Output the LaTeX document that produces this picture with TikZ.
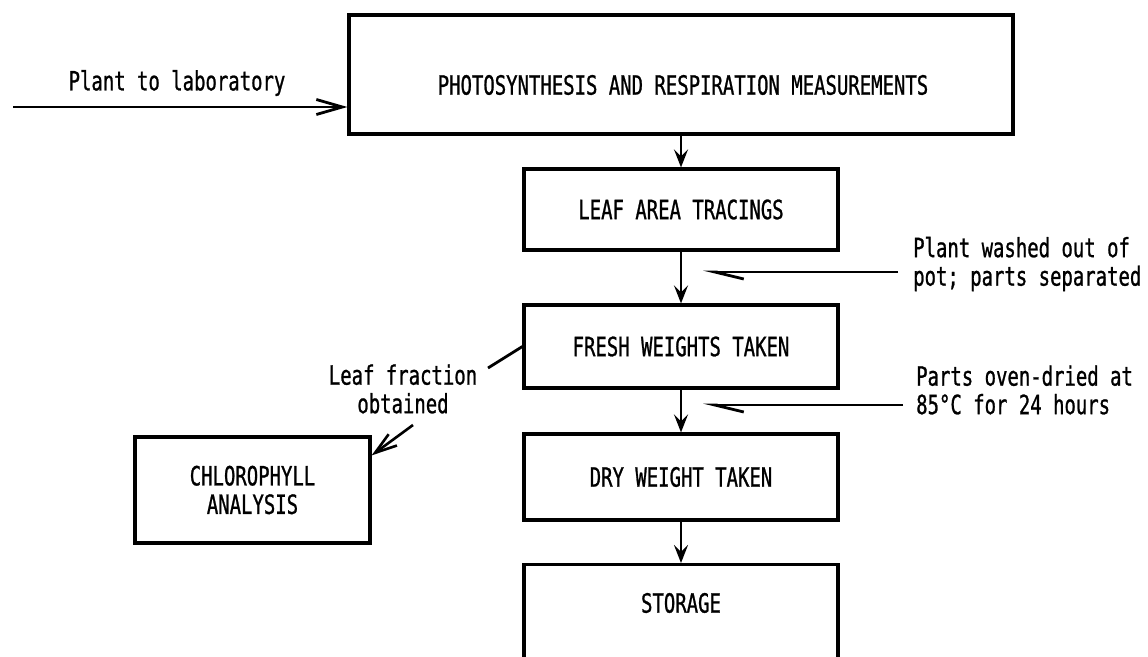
\documentclass[tikz,border=0pt]{standalone}
\usepackage{fontspec}
\newfontfamily\tw[FakeStretch=0.715,FakeBold=0.9]{DejaVu Sans Mono}
\usetikzlibrary{arrows.meta}
\begin{document}
\begin{tikzpicture}[x=1pt,y=-1pt,
  every node/.style={font=\tw\fontsize{26.5}{28.5}\selectfont, inner sep=0pt},
  box/.style={draw, line width=3.2pt, minimum width=314pt},
  flow/.style={line width=2.8pt, -{Stealth[length=18pt,width=14pt,inset=7pt]}},
  barb/.style={line width=2.8pt, -{Straight Barb[length=26pt,width=15pt]}},
  half/.style={line width=2.8pt, -{Straight Barb[harpoon,length=29pt,width=14pt]}},
  plain/.style={line width=2.8pt}]
\useasboundingbox (0,0) rectangle (1148,656);
\clip (0,0) rectangle (1148,656);
\fill[white] (0,0) rectangle (1148,656);

% main boxes
\node[box, minimum width=664pt, minimum height=119pt] (P) at (681,74.5) {};
\node (Pt) at (683,85) {PHOTOSYNTHESIS AND RESPIRATION MEASUREMENTS};
\node[box, minimum height=81pt] (L) at (681,209.5) {LEAF AREA TRACINGS};
\node[box, minimum height=83pt] (F) at (681,346.5) {FRESH WEIGHTS TAKEN};
\node[box, minimum height=86pt] (D) at (681,477) {DRY WEIGHT TAKEN};
\node[box, minimum height=140pt, anchor=north] (S) at (681,563) {};
\node (St) at (681,603) {STORAGE};
\node[box, minimum width=235pt, minimum height=106pt, align=center] (C) at (252.5,490) {CHLOROPHYLL\\ANALYSIS};

% vertical flow
\draw[flow] (P.south) -- (L.north);
\draw[flow] (L.south) -- (F.north);
\draw[flow] (F.south) -- (D.north);
\draw[flow] (D.south) -- (S.north);

% input
\coordinate (in) at (13,107);
\node (inl) at (177,83) {Plant to laboratory};
\draw[barb] (in) -- (in -| P.west);

% side inputs
\node[align=left, anchor=west] (s1) at (913,264) {Plant washed out of\\pot; parts separated};
\coordinate (e1) at (898,272);
\coordinate (t1) at (703,272);
\draw[half] (e1) -- (t1);

\node[align=left, anchor=west] (s2) at (916,390) {Parts oven-dried at\\85°C for 24 hours};
\coordinate (e2) at (903,405);
\coordinate (t2) at (703,405);
\draw[half] (e2) -- (t2);

% leaf fraction
\node[align=center] (lf) at (403,389) {Leaf fraction\\obtained};
\coordinate (lfa) at (488,368);
\draw[plain] (F.west) -- (lfa);
\coordinate (lfb) at (413,425);
\draw[line width=2.6pt, -{Straight Barb[length=22pt,width=14pt]}] (lfb) -- ([yshift=-20pt]C.north east);
\end{tikzpicture}
\end{document}
